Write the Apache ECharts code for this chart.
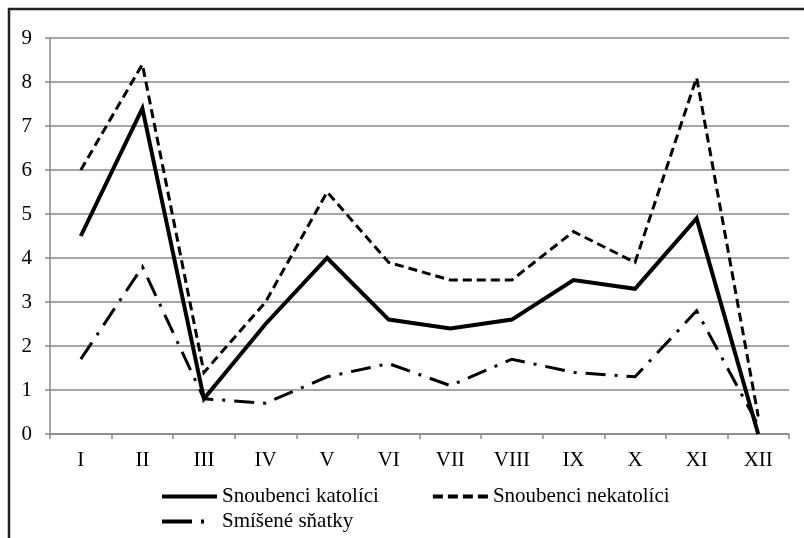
<!DOCTYPE html>
<html>
<head>
<meta charset="utf-8">
<script src="https://cdn.jsdelivr.net/npm/echarts@6/dist/echarts.min.js"></script>
<style>
  html, body { margin: 0; padding: 0; background: #fff; }
  #chart { width: 804px; height: 538px; }
</style>
</head>
<body>
<div id="chart"></div>
<script>
    // mesice
    var months = ['I', 'II', 'III', 'IV', 'V', 'VI', 'VII', 'VIII', 'IX', 'X', 'XI', 'XII'];
    var seriesNames = ['Snoubenci katolíci', 'Snoubenci nekatolíci', 'Smíšené sňatky'];
    var katolici = [4.5, 7.4, 0.8, 2.5, 4.0, 2.6, 2.4, 2.6, 3.5, 3.3, 4.9, 0];
    var nekatolici = [6.0, 8.4, 1.4, 3.0, 5.5, 3.9, 3.5, 3.5, 4.6, 3.9, 8.1, 0.4];
    var smisene = [1.7, 3.8, 0.8, 0.7, 1.3, 1.6, 1.1, 1.7, 1.4, 1.3, 2.8, 0.2];
    var yTicks = { min: 0, max: 9, interval: 1 };

    var font = '"Liberation Serif", "Times New Roman", serif';
    var myChart = echarts.init(document.getElementById('chart'));

    var solidLine = { color: '#000', width: 4, type: 'solid', join: 'miter' };
    var dashLine = { color: '#000', width: 3, type: [9, 5], join: 'miter' };
    var dashDotLine = { color: '#000', width: 3, type: [20, 9, 3, 9], join: 'miter' };

    var legendText = { fontFamily: font, fontSize: 21, color: '#000' };

    var option = {
        backgroundColor: '#fff',
        animation: false,
        textStyle: { fontFamily: font },
        graphic: [{
            type: 'rect',
            shape: { x: 9, y: 9, width: 820, height: 560 },
            style: { fill: 'none', stroke: '#222', lineWidth: 2.5 },
            silent: true
        }],
        grid: {
            left: 50,
            right: 15,
            top: 38,
            bottom: 104
        },
        legend: [{
            data: [
                { name: seriesNames[0], lineStyle: solidLine },
                { name: seriesNames[1], lineStyle: { color: '#000', width: 4, type: [10, 5] } }
            ],
            left: 160,
            top: 486,
            padding: 0,
            itemWidth: 55,
            itemHeight: 12,
            itemGap: 52,
            itemStyle: { opacity: 0 },
            textStyle: legendText
        }, {
            data: [{ name: seriesNames[2], lineStyle: { color: '#000', width: 4, type: [30, 9, 3, 20] } }],
            left: 160,
            top: 511,
            padding: 0,
            itemWidth: 55,
            itemHeight: 12,
            itemStyle: { opacity: 0 },
            textStyle: legendText
        }],
        xAxis: {
            type: 'category',
            data: months,
            boundaryGap: true,
            axisLine: { lineStyle: { color: '#888', width: 1.5 } },
            axisTick: { show: true, length: 5, lineStyle: { color: '#888', width: 1.5 } },
            axisLabel: { color: '#000', fontSize: 21, fontFamily: font, margin: 16 }
        },
        yAxis: {
            type: 'value',
            min: yTicks.min,
            max: yTicks.max,
            interval: yTicks.interval,
            axisLine: { show: true, lineStyle: { color: '#888', width: 1.5 } },
            axisTick: { show: true, length: 5, lineStyle: { color: '#888', width: 1.5 } },
            axisLabel: { color: '#000', fontSize: 21, fontFamily: font, margin: 18 },
            splitLine: { show: true, lineStyle: { color: '#888', width: 1.5 } }
        },
        series: [{
            name: seriesNames[0],
            type: 'line',
            data: katolici,
            symbol: 'none',
            color: '#000',
            lineStyle: solidLine
        }, {
            name: seriesNames[1],
            type: 'line',
            data: nekatolici,
            symbol: 'none',
            color: '#000',
            lineStyle: dashLine
        }, {
            name: seriesNames[2],
            type: 'line',
            data: smisene,
            symbol: 'none',
            color: '#000',
            lineStyle: dashDotLine
        }]
    };
    myChart.setOption(option);
</script>
</body>
</html>
